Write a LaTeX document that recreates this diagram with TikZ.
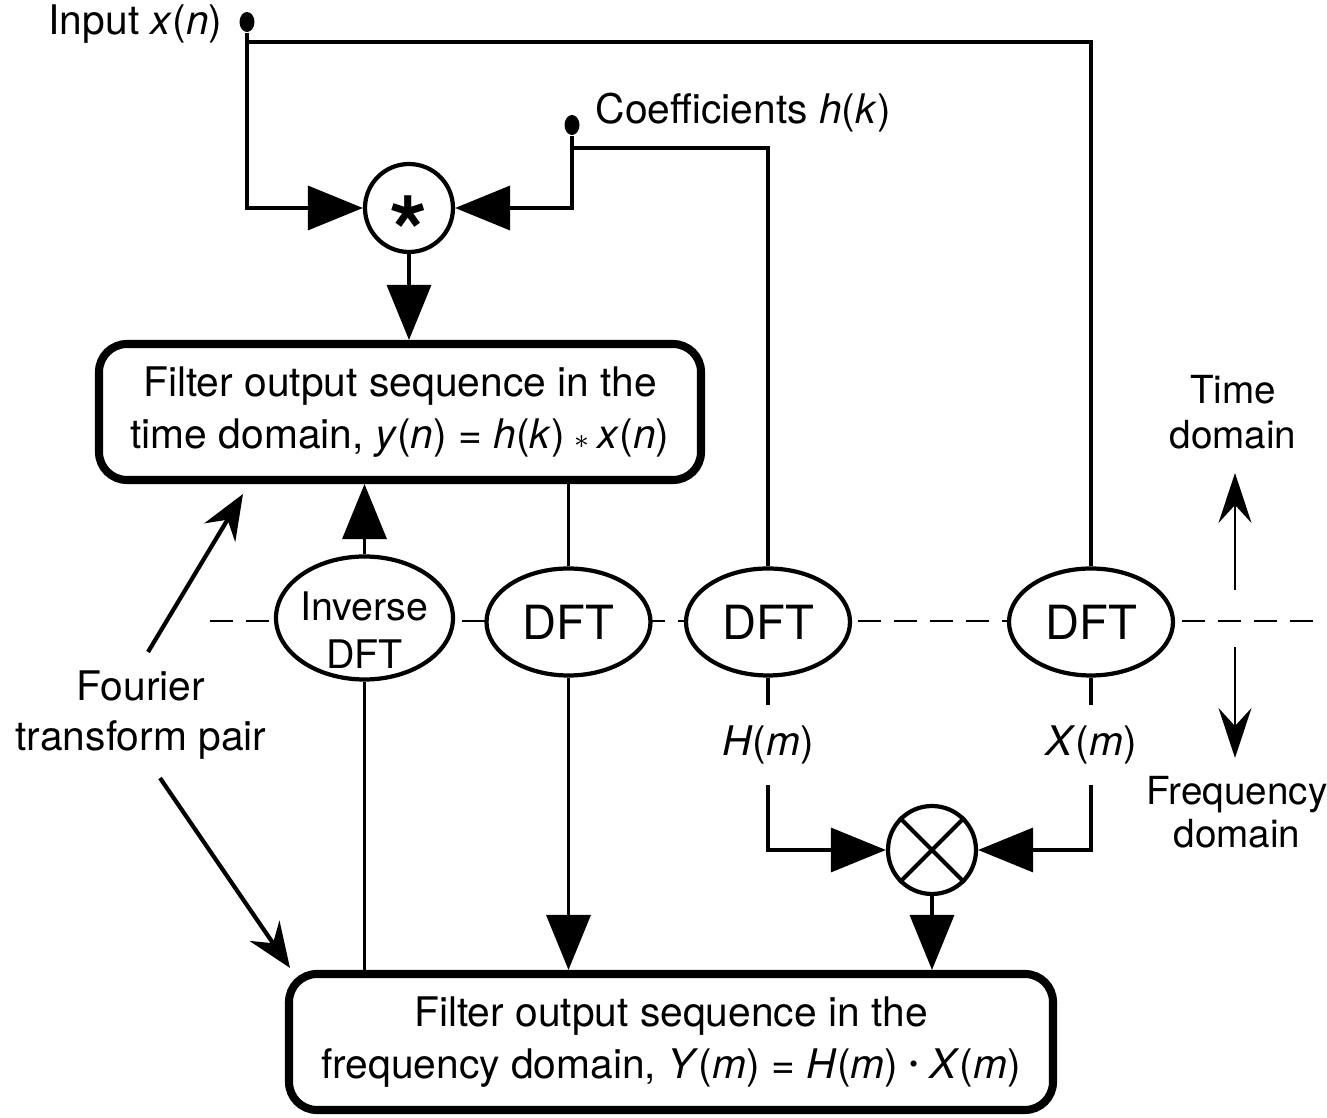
\documentclass[tikz,border=0pt]{standalone}
\usepackage{fontspec}
\setmainfont{TeX Gyre Heros}
\usetikzlibrary{shapes.geometric,arrows.meta,positioning}
\newcommand{\vi}[1]{\textit{#1}}

\begin{document}
\begin{tikzpicture}[
    sig/.style={line width=1pt},
    arr/.style={sig, -{Triangle[length=5.5mm,width=4.4mm]}},
    pointer/.style={line width=1.2pt, -{Stealth[length=4.5mm,width=3.6mm,inset=1.5mm]}},
    axisarr/.style={line width=0.6pt, -{Stealth[length=5mm,width=3.3mm,inset=1.8mm]}},
    outbox/.style={draw, line width=2.3pt, rounded corners=0.28cm, fill=white, align=center,
        minimum height=1.36cm, font=\fontsize{11.6}{15}\selectfont},
    xform/.style={draw, ellipse, line width=1.2pt, fill=white, inner sep=0pt,
        minimum width=1.64cm, minimum height=1.07cm, font=\fontsize{13.4}{14}\selectfont},
    opcirc/.style={draw, circle, line width=1.2pt, fill=white, minimum size=0.88cm, inner sep=0pt},
    tap/.style={fill, ellipse, minimum width=0.15cm, minimum height=0.2cm, inner sep=0pt},
    txt/.style={font=\fontsize{11.6}{14}\selectfont, align=center},
]
\useasboundingbox (0,0) rectangle (13.27,-11.18);

% time / frequency border
\coordinate (dl) at (2.10,-6.21);
\coordinate (dr) at (13.20,-6.21);
\draw[line width=0.6pt, dash pattern=on 2.3mm off 1.3mm] (dl) -- (dr);

% time domain
\node[tap] (inp) at (2.47,-0.22) {};
\node[txt, left=0.04cm of inp, yshift=-0.02cm] (inlab) {Input \vi{x}(\vi{n})};
\node[tap] (coef) at (5.72,-1.25) {};
\node[txt, right=0.03cm of coef, yshift=0.12cm] (coeflab) {Coefficients \vi{h}(\vi{k})};
\node[opcirc] (conv) at (4.09,-2.08) {\smash{\raisebox{-17pt}{\fontsize{28}{28}\selectfont\bfseries *}}};
\node[outbox, minimum width=6.02cm] (tbox) at (4.00,-4.12)
    {Filter output sequence in the\\time domain, \vi{y}(\vi{n}) = \vi{h}(\vi{k})\hspace{0.22em}{\footnotesize$\ast$}\hspace{0.22em}\vi{x}(\vi{n})};

% transforms
\node[xform, minimum width=1.77cm, minimum height=1.23cm] (idft) at (3.645,-6.18) {};
\node[txt, font=\fontsize{11.2}{13.6}\selectfont] (idftlab) at ([yshift=-0.12cm]idft.center) {Inverse\\DFT};
\node[xform] (dft) at (5.685,-6.22) {DFT};
\node[xform] (dfth) at (7.68,-6.22) {DFT};
\node[xform] (dftx) at (10.91,-6.22) {DFT};

% frequency domain
\node[txt, inner ysep=0.2cm] (hm) at (7.68,-7.45) {\vi{H}(\vi{m})};
\node[txt, inner ysep=0.2cm] (xm) at (10.91,-7.45) {\vi{X}(\vi{m})};
\node[opcirc] (mult) at (9.32,-8.50) {};
\draw[line width=1.2pt] (mult.north west) -- (mult.south east)
    (mult.north east) -- (mult.south west);
\node[outbox, minimum width=7.64cm] (fbox) at (6.71,-10.42)
    {Filter output sequence in the\\frequency domain, \vi{Y}(\vi{m}) = \vi{H}(\vi{m}) \raisebox{0.3ex}{\fontsize{7}{7}\selectfont\textbullet} \vi{X}(\vi{m})};

% side labels
\node[txt, font=\fontsize{11}{12.8}\selectfont] (td) at (12.33,-4.12) {Time\\domain};
\node[txt, font=\fontsize{11}{12.3}\selectfont] (fd) at (12.37,-8.12) {Frequency\\domain};
\node[txt] (ftp) at (1.41,-7.15) {Fourier\\transform pair};

% signal paths
\coordinate (intop) at (2.47,-0.42);
\coordinate (coeftop) at (5.72,-1.48);
\draw[arr] (inp) |- (conv);
\draw[sig] (intop) -| (dftx);
\draw[arr] (coef) |- (conv);
\draw[sig] (coeftop) -| (dfth);
\draw[arr] (conv) -- (conv |- tbox.north);
\draw[arr] (idft) -- (idft |- tbox.south);
\draw[sig] (tbox.south -| dft) -- (dft);
\draw[arr] (dft) -- (dft |- fbox.north);
\draw[sig] (fbox.north -| idft) -- (idft);
\draw[sig] (dfth) -- (hm);
\draw[arr] (hm) |- (mult);
\draw[sig] (dftx) -- (xm);
\draw[arr] (xm) |- (mult);
\draw[arr] (mult) -- (mult |- fbox.north);

% pointers
\coordinate (fu0) at (1.48,-6.52);
\coordinate (fu1) at (2.43,-4.94);
\coordinate (fl0) at (1.60,-7.78);
\coordinate (fl1) at (2.90,-9.68);
\draw[pointer] (fu0) -- (fu1);
\draw[pointer] (fl0) -- (fl1);
\coordinate (tu0) at (12.35,-5.90);
\coordinate (tu1) at (12.35,-4.73);
\coordinate (fd0) at (12.35,-6.47);
\coordinate (fd1) at (12.35,-7.58);
\draw[axisarr] (tu0) -- (tu1);
\draw[axisarr] (fd0) -- (fd1);
\end{tikzpicture}
\end{document}
